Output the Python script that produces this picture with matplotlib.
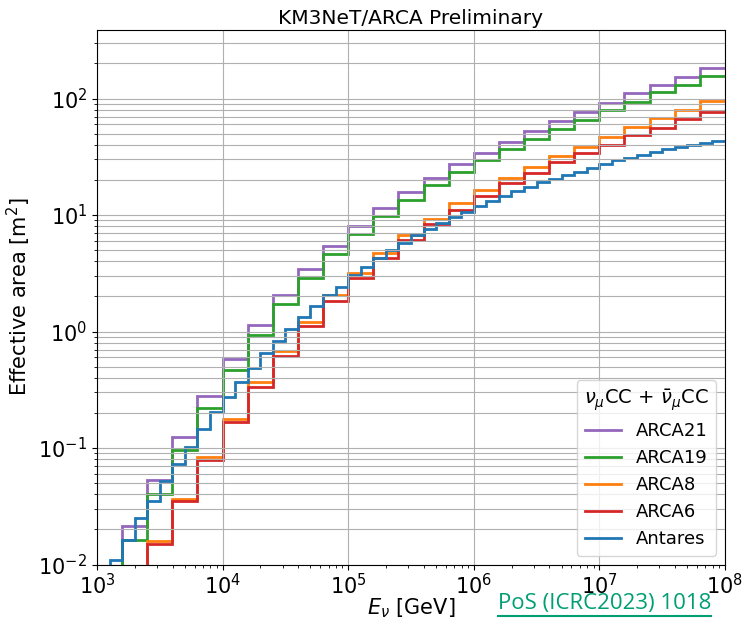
import numpy as np
import matplotlib
matplotlib.use("Agg")
import matplotlib.pyplot as plt
from matplotlib.lines import Line2D

# bin edges (GeV): ARCA in 0.2 dex, Antares in 0.1 dex
arca_edges = np.logspace(3, 8, 26)
antares_edges = np.logspace(3, 8, 51)

# effective areas [m^2]
arca21 = [0.005, 0.0213, 0.0527, 0.124, 0.278, 0.578, 1.13, 2.05, 3.43, 5.40,
          8.0, 11.5, 15.8, 20.9, 27.2, 34.3, 42.6, 52.3, 63.9, 76.3,
          92.4, 111, 131, 154, 183]
arca19 = [0.005, 0.0161, 0.0403, 0.0966, 0.219, 0.468, 0.933, 1.71, 2.89, 4.61,
          6.93, 9.78, 13.6, 18.0, 23.4, 29.8, 37.1, 45.0, 55.0, 66.1,
          79.4, 94.3, 113, 132, 156]
arca8 = [0.003, 0.004, 0.0158, 0.0367, 0.0836, 0.177, 0.367, 0.681, 1.21, 2.04,
         3.21, 4.75, 6.8, 9.32, 12.8, 16.3, 20.8, 25.8, 32.0, 38.3,
         46.6, 56.8, 68.3, 80.5, 96.1]
arca6 = [0.003, 0.004, 0.0150, 0.0348, 0.0794, 0.167, 0.333, 0.621, 1.11, 1.82,
         2.86, 4.30, 6.16, 8.45, 11.1, 14.5, 19.0, 23.1, 28.5, 34.0,
         40.1, 48.9, 56.1, 67.0, 76.3]
antares = [0.005, 0.011, 0.0164, 0.0251, 0.0348, 0.0525, 0.0728, 0.103, 0.146, 0.203,
           0.275, 0.367, 0.484, 0.659, 0.834, 1.06, 1.34, 1.66, 2.05, 2.42,
           3.08, 3.6, 4.3, 5.04, 5.81, 6.71, 7.65, 8.61, 9.62, 10.6,
           11.9, 13.2, 14.5, 16.1, 17.4, 19.2, 20.2, 21.9, 23.4, 25.3,
           27.2, 29.4, 30.8, 32.5, 34.7, 37.1, 38.3, 40.1, 41.4, 42.8]

series = [
    ("ARCA21", arca21, arca_edges, "tab:purple"),
    ("ARCA19", arca19, arca_edges, "tab:green"),
    ("ARCA8", arca8, arca_edges, "tab:orange"),
    ("ARCA6", arca6, arca_edges, "tab:red"),
    ("Antares", antares, antares_edges, "tab:blue"),
]

plt.rcParams["font.size"] = 15

fig = plt.figure(figsize=(7.43, 6.19), dpi=100)
ax = fig.add_axes([0.1306, 0.088, 0.845, 0.864])

for name, vals, edges, col in series:
    ax.stairs(vals, edges, baseline=None, color=col, lw=2, label=name)

ax.set_xscale("log")
ax.set_yscale("log")
ax.set_xlim(1e3, 1e8)
ax.set_ylim(1e-2, 390)
ax.grid(True, which="major", color="#b0b0b0", lw=0.8)
ax.grid(True, which="minor", axis="y", color="#b0b0b0", lw=0.8)
ax.tick_params(axis="x", which="major", pad=2.5)

ax.set_title("KM3NeT/ARCA Preliminary", fontsize=14.5, pad=4)
ax.set_xlabel(r"$E_\nu$ [GeV]", fontsize=15, labelpad=-1)
ax.set_ylabel(r"Effective area [m$^2$]", fontsize=15)

handles = [Line2D([], [], color=c, lw=2) for _, _, _, c in series]
labels = [n for n, _, _, _ in series]
ax.legend(handles, labels, loc="lower right", fontsize=13,
          title=r"$\nu_\mu$CC + $\bar{\nu}_\mu$CC", title_fontsize=14)

# publication reference, underlined
green = "#009E73"
txt = fig.text(498 / 743, 1 - 609 / 619, "PoS (ICRC2023) 1018", color=green,
               fontsize=16, family="Open Sans", va="baseline")
fig.canvas.draw()
bb = txt.get_window_extent()
fig.add_artist(Line2D([bb.x0 / fig.bbox.width, bb.x1 / fig.bbox.width],
                      [3 / 619, 3 / 619], color=green, lw=1.5,
                      transform=fig.transFigure))

fig.savefig("out.png", dpi=100)
